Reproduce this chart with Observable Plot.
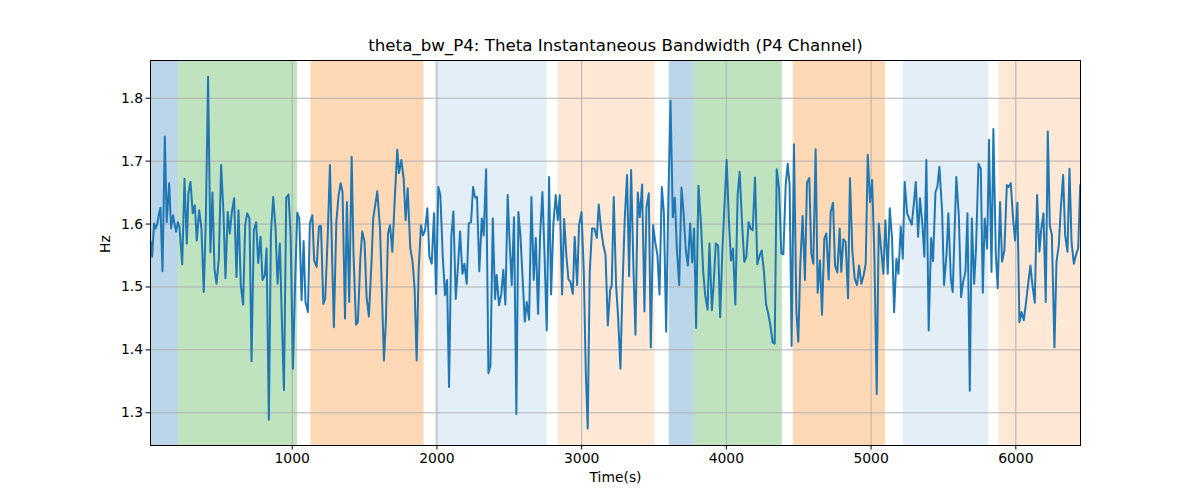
<!DOCTYPE html>
<html><head><meta charset="utf-8">
<script src="https://cdn.jsdelivr.net/npm/d3@7"></script>
<script src="https://cdn.jsdelivr.net/npm/@observablehq/plot@0.6"></script>
<style>
body{margin:0;background:#fff;}
#chart svg{display:block;}
</style>
</head><body><div id="chart"></div>
<script>
const times = [
23,32,46,57,69,78,90,104,120,133,150,163,177,189,198,210,221,240,256,272,283,297,313,327,341,357,373,389,403,419,435,449,463,477,493,509,525,539,555,569,583,599,615,629,645,661,675,689,705,719,735,751,765,781,795,811,
823,839,853,869,885,899,915,929,943,959,975,989,1005,1019,1035,1049,1065,1079,1092,1109,1122,1139,1152,1169,1185,1199,1215,1228,1245,1261,1275,1288,1305,1321,1335,1348,1365,1378,1394,1411,1424,1441,1454,1471,1484,1500,1514,1530,1547,1560,1577,1588,1607,
1634,1648,1662,1676,1692,1710,1726,1738,1754,1770,1784,1798,1816,1832,1846,1860,1874,1890,1904,1918,1934,1948,1964,1980,1994,2010,2024,2040,2056,2070,2084,2100,2114,2130,2146,2160,2176,2190,2206,2220,2236,2250,2264,2277,2293,2310,2323,2340,2356,2370,2386,2402,
2413,2429,2445,2459,2473,2489,2503,2517,2533,2549,2563,2577,2591,2607,2621,2637,2653,2669,2683,2699,2713,2729,2743,2759,2775,2789,2805,2821,2835,2849,2865,2879,2895,2909,2923,2939,2952,2969,2982,2999,3015,3029,3042,3056,3072,3088,3105,3118,3135,3151,3165,3181,3197,
3208,3222,3238,3252,3268,3282,3298,3314,3328,3342,3358,3372,3388,3402,3418,3434,3448,3464,3478,3494,3508,3524,3538,3554,3568,3584,3598,3614,3630,3644,3658,3674,3690,3704,3720,3734,3750,3764,3777,3791,3807,3824,3840,3854,3870,3883,3900,3913,3927,3943,3957,3973,
4002,4018,4032,4046,4062,4078,4092,4108,4124,4138,4154,4168,4182,4198,4214,4230,4244,4260,4274,4290,4304,4320,4334,4348,4364,4380,4394,4410,4424,4437,4451,4467,4484,4497,4511,4527,4543,4557,4573,4587,4601,4617,4631,4647,4661,4677,4691,4707,4721,4737,4751,4767,4783,
4794,4808,4824,4841,4854,4871,4887,4903,4917,4933,4949,4963,4977,4993,5007,5023,5039,5053,5069,5085,5099,5115,5129,5145,5159,5175,5189,5205,5219,5232,5249,5265,5281,5295,5309,5325,5338,5355,5368,5382,5398,5415,5428,5445,5458,5472,5491,5504,5521,5534,5551,5564,
5589,5606,5622,5636,5652,5666,5682,5696,5712,5725,5742,5758,5772,5785,5802,5815,5832,5845,5862,5875,5891,5905,5921,5938,5949,5965,5981,5995,6011,6025,6039,6055,6071,6087,6101,6115,6131,6147,6163,6175,6191,6207,6221,6235,6249,6267,6281,6297,6311,6327,6341,6357,6371,6385,6401,6415,6431,6445
];
const values = [
1.572,1.548,1.601,1.593,1.601,1.614,1.626,1.525,1.739,1.603,1.665,1.593,1.614,1.598,1.588,1.603,1.596,1.536,1.672,1.569,1.649,1.667,1.617,1.630,1.574,1.622,1.593,1.492,1.603,1.834,1.555,1.650,1.529,1.505,1.545,1.694,1.619,1.514,1.619,1.585,1.619,1.641,1.516,1.622,1.503,1.472,1.598,1.617,1.609,1.382,1.590,1.603,1.538,1.580,1.511,1.519,
1.561,1.289,1.585,1.643,1.593,1.505,1.569,1.444,1.336,1.642,1.647,1.582,1.370,1.497,1.618,1.609,1.479,1.573,1.476,1.460,1.601,1.614,1.542,1.532,1.596,1.597,1.473,1.481,1.577,1.694,1.556,1.436,1.603,1.646,1.665,1.651,1.450,1.635,1.476,1.707,1.550,1.440,1.444,1.545,1.588,1.572,1.484,1.453,1.534,1.609,1.635,1.652,1.593,
1.383,1.449,1.585,1.598,1.556,1.646,1.718,1.681,1.702,1.673,1.606,1.657,1.562,1.540,1.497,1.383,1.529,1.598,1.582,1.590,1.625,1.548,1.537,1.617,1.489,1.659,1.646,1.550,1.487,1.511,1.341,1.582,1.620,1.481,1.534,1.588,1.521,1.537,1.505,1.601,1.603,1.659,1.642,1.643,1.525,1.609,1.582,1.687,1.363,1.375,1.609,1.481,
1.519,1.471,1.489,1.527,1.472,1.646,1.569,1.503,1.611,1.298,1.619,1.582,1.519,1.445,1.476,1.448,1.643,1.511,1.578,1.457,1.582,1.651,1.556,1.431,1.675,1.488,1.601,1.646,1.606,1.646,1.488,1.608,1.548,1.512,1.508,1.489,1.580,1.503,1.598,1.619,1.524,1.362,1.275,1.524,1.593,1.593,1.578,1.631,1.590,1.565,1.551,1.439,1.495,
1.503,1.643,1.503,1.452,1.370,1.497,1.609,1.678,1.517,1.686,1.529,1.424,1.650,1.611,1.663,1.461,1.627,1.649,1.404,1.598,1.572,1.550,1.488,1.659,1.619,1.429,1.627,1.796,1.611,1.642,1.561,1.503,1.658,1.619,1.558,1.534,1.601,1.539,1.593,1.435,1.661,1.603,1.524,1.487,1.464,1.569,1.463,1.508,1.569,1.566,1.452,1.561,
1.702,1.603,1.542,1.561,1.472,1.646,1.683,1.603,1.540,1.548,1.603,1.593,1.590,1.674,1.536,1.550,1.558,1.524,1.473,1.457,1.439,1.412,1.410,1.687,1.657,1.553,1.552,1.662,1.696,1.662,1.406,1.727,1.460,1.413,1.537,1.613,1.511,1.666,1.673,1.553,1.537,1.719,1.491,1.542,1.456,1.577,1.585,1.512,1.619,1.634,1.534,1.523,1.593,
1.524,1.576,1.572,1.482,1.673,1.556,1.513,1.503,1.534,1.505,1.519,1.537,1.710,1.635,1.670,1.550,1.330,1.601,1.561,1.521,1.606,1.521,1.625,1.577,1.460,1.545,1.521,1.596,1.545,1.667,1.617,1.608,1.599,1.631,1.667,1.580,1.641,1.598,1.548,1.702,1.431,1.578,1.541,1.651,1.659,1.691,1.619,1.503,1.550,1.617,1.513,1.492,
1.675,1.614,1.484,1.508,1.524,1.617,1.335,1.609,1.505,1.561,1.696,1.688,1.491,1.609,1.561,1.734,1.524,1.751,1.550,1.498,1.635,1.540,1.558,1.662,1.659,1.665,1.609,1.574,1.634,1.444,1.460,1.447,1.476,1.508,1.534,1.503,1.475,1.646,1.556,1.590,1.617,1.476,1.747,1.598,1.583,1.404,1.540,1.566,1.625,1.678,1.582,1.556,1.688,1.572,1.537,1.550,1.562,1.662
];
const bandStart = [21, 214, 1129, 1989, 2838, 3605, 3778, 4463, 5224, 5883];
const bandEnd   = [214, 1037, 1911, 2761, 3508, 3778, 4387, 5099, 5811, 6447];
const bandKind  = ["blue","green","orange","lightblue","lightorange","blue","green","orange","lightblue","lightorange"];
const kindColor = {blue:"#1f77b4", green:"#2ca02c", orange:"#ff7f0e", lightblue:"#1f77b4", lightorange:"#ff7f0e"};
const kindOpacity = {blue:0.3, green:0.3, orange:0.3, lightblue:0.12, lightorange:0.17};
const xTicks = [1000,2000,3000,4000,5000,6000];
const yTicks = [1.3,1.4,1.5,1.6,1.7,1.8];
const xDomain = [21, 6447];
const yDomain = [1.248, 1.86];
const titleText = "theta_bw_P4: Theta Instantaneous Bandwidth (P4 Channel)";

const series = times.map((t,i)=>({t, v: values[i]}));
const bands = bandStart.map((s,i)=>({s, e: bandEnd[i], k: bandKind[i]}));

const chart = Plot.plot({
  width: 1200, height: 500,
  marginLeft: 150, marginRight: 120, marginTop: 60, marginBottom: 55,
  style: {fontFamily: "DejaVu Sans", fontSize: "13.9px", background: "#fff", color: "#000"},
  x: {domain: xDomain, ticks: xTicks, tickFormat: d3.format("d"), label: null},
  y: {domain: yDomain, ticks: yTicks, tickFormat: d3.format(".1f"), label: null},
  marks: [
    Plot.rect(bands, {x1: "s", x2: "e", fill: d=>kindColor[d.k], fillOpacity: d=>kindOpacity[d.k]}),
    Plot.gridX(xTicks, {stroke: "#b0b0b0", strokeOpacity: 1, strokeWidth: 1}),
    Plot.gridY(yTicks, {stroke: "#b0b0b0", strokeOpacity: 1, strokeWidth: 1}),
    Plot.line(series, {x: "t", y: "v", stroke: "#1f77b4", strokeWidth: 2}),
    Plot.axisX(xTicks, {tickSize: 4.5, tickPadding: 3, tickFormat: d3.format("d"), fontSize: 13.9, label: null}),
    Plot.axisY(yTicks, {tickSize: 4.5, tickPadding: 3, tickFormat: d3.format(".1f"), fontSize: 13.9, label: null}),
    Plot.frame({stroke: "#000", strokeWidth: 1}),
    Plot.text([titleText], {frameAnchor: "top", dy: -21, fontSize: 16.67, text: d=>d, fill: "#000"}),
    Plot.text(["Time(s)"], {frameAnchor: "bottom", dy: 36, fontSize: 13.9, text: d=>d, fill: "#000"}),
    Plot.text(["Hz"], {frameAnchor: "left", dx: -45, rotate: -90, fontSize: 13.9, text: d=>d, fill: "#000"})
  ]
});
document.getElementById("chart").appendChild(chart);
</script>
</body></html>
